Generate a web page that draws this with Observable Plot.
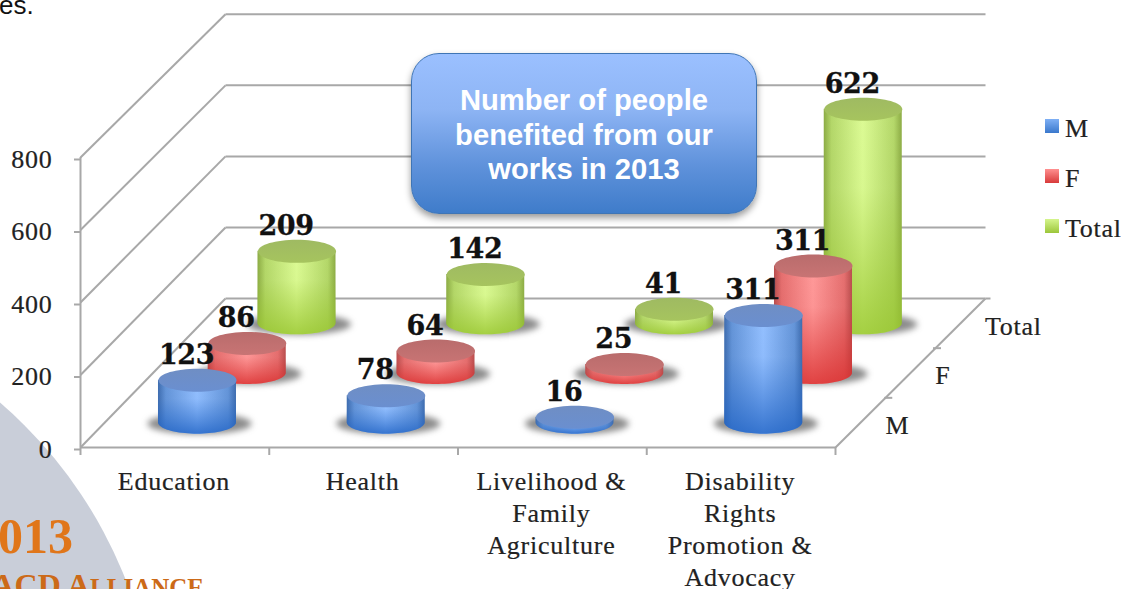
<!DOCTYPE html>
<html><head><meta charset="utf-8">
<script src="https://cdn.jsdelivr.net/npm/d3@7"></script>
<script src="https://cdn.jsdelivr.net/npm/@observablehq/plot@0.6"></script>
<style>
html,body{margin:0;padding:0;background:#fff;overflow:hidden;width:1128px;height:589px}
#stage{position:relative;width:1128px;height:589px;overflow:hidden}
#arc{position:absolute;left:-747px;top:293px;width:904px;height:904px;border-radius:50%;background:#c9ced9}
#chart{position:absolute;left:0;top:0}
#chart svg{display:block}
.serif text{letter-spacing:.75px;stroke:#222;stroke-width:.2px}
.serif .vals text{letter-spacing:-.4px;stroke:#111;stroke-width:.3px}
#frag{position:absolute;left:-1px;top:-10px;font:26px/30px "Liberation Sans",sans-serif;color:#111}
#callout{position:absolute;left:411px;top:53px;width:344px;height:159px;border:1px solid #3f75b5;border-radius:28px;
 background:linear-gradient(#9bc0ff 0%,#8db4f4 35%,#5f92db 70%,#3f7cca 100%);box-shadow:0 4px 7px rgba(0,0,0,.4);
 color:#fff;font:bold 29.2px/34.5px "Liberation Sans",sans-serif;text-align:center;display:flex;align-items:center;justify-content:center}
#callout div{padding-top:3px}
#year{position:absolute;left:-2px;top:506px;font:bold 50px/60px "Liberation Serif",serif;color:#e0761a;white-space:nowrap}
#org{position:absolute;right:924px;top:569px;font:bold 32px/32px "Liberation Serif",serif;color:#cc6a18;white-space:nowrap}
#org small{font-size:25px}
.lg{position:absolute;left:1045px;width:14px;height:14px}
.lt{position:absolute;left:1065px;font:26px/30px "Liberation Serif",serif;letter-spacing:.75px;color:#222;-webkit-text-stroke:.2px #222}
</style></head>
<body><div id="stage">
<div id="arc"></div>
<div id="chart"></div>
<div id="frag">es.</div>
<div id="year">013</div>
<div id="org">ACD A<small>LLIANCE</small></div>
<div id="callout"><div>Number of people<br>benefited from our<br>works in 2013</div></div>
<div class="lg" style="top:119px;background:linear-gradient(#7fb0f5,#3a78cc)"></div><div class="lt" style="top:114px">M</div>
<div class="lg" style="top:169px;background:linear-gradient(#ff9090,#d83a3a)"></div><div class="lt" style="top:164px">F</div>
<div class="lg" style="top:219px;background:linear-gradient(#d5f58d,#9cc63a)"></div><div class="lt" style="top:214px">Total</div>
</div>
<script>
const categories = ["Education", "Health", "Livelihood &\nFamily\nAgriculture", "Disability\nRights\nPromotion &\nAdvocacy"];
const seriesNames = ["M", "F", "Total"];
const valuesM = [123, 78, 16, 311];
const valuesF = [86, 64, 25, 311];
const valuesTotal = [209, 142, 41, 622];
const yTicks = [0, 200, 400, 600, 800];
const seriesValues = {M: valuesM, F: valuesF, Total: valuesTotal};

// oblique projection expressed in the units of the x (category) and y (value) scales
const pxX = 755 / 4, pxY = 290 / 800;     // pixels per scale unit, set by the ranges below
const depthX = 0.2636, depthY = 137;     // shift per depth row
const backLeft = 145 / pxX, backRight = 4 + 150 / pxX;
const wallShrink = 0.98, barShrink = 0.95;
const rx = 39, ry = 11.5;
const depths = {M: 0.5, F: 1.5, Total: 2.5};
const px = (c, d) => c + 0.5 + d * depthX - 0.012;

const ellipse = ratio => ({draw(ctx, size) {
  const a = Math.sqrt(size / Math.PI), b = a * ratio, k = 0.5523;
  ctx.moveTo(a, 0);
  ctx.bezierCurveTo(a, k * b, k * a, b, 0, b);
  ctx.bezierCurveTo(-k * a, b, -a, k * b, -a, 0);
  ctx.bezierCurveTo(-a, -k * b, -k * a, -b, 0, -b);
  ctx.bezierCurveTo(k * a, -b, a, -k * b, a, 0);
  ctx.closePath();
}});

const rows = seriesNames.map(s => categories.map((c, i) => {
  const d = depths[s], base = d * depthY;
  return {s, c, i, v: seriesValues[s][i], x: px(i, d), base, top: base + seriesValues[s][i] * barShrink};
}));
const all = rows.flat();

const angles = d3.range(0, 41).map(k => Math.PI * k / 40);
const bodyPts = r => r.flatMap(b => angles.map(a => ({
  id: b.s + b.i,
  x: b.x + Math.cos(a) * rx / pxX,
  y1: b.base - Math.sin(a) * ry / pxY,
  y2: b.top
})));

const defs = () => {
  const stops = (a) => a.map(([o, c, op]) => `<stop offset="${o}" stop-color="${c}" stop-opacity="${op ?? 1}"/>`).join("");
  const h = (id, e, m, c) => `<linearGradient id="${id}" x1="0" x2="1" y1="0" y2="0">${stops([[0, e], [.1, m], [.5, c], [.9, m], [1, e]])}</linearGradient>`;
  const v = (id, a) => `<linearGradient id="${id}" x1="0" x2="0" y1="0" y2="1">${stops(a)}</linearGradient>`;
  return d3.create("svg:g").html(`<defs>
    ${h("hM", "#3e6cae", "#6595d8", "#94c0ff")}
    ${h("hF", "#b84e4e", "#e57070", "#ff9a9a")}
    ${h("hTotal", "#8cab45", "#b4d76a", "#dcfb95")}
    ${v("vM", [[0, "#2a6ccb", 0], [.35, "#2a6ccb", 0.05], [1, "#1f62c4", .8]])}
    ${v("vF", [[0, "#d83030", 0], [.35, "#d83030", 0.05], [1, "#d92c2c", .8]])}
    ${v("vTotal", [[0, "#98c430", 0], [.35, "#98c430", 0.05], [1, "#97c52e", .8]])}
    ${v("tM", [[0, "#6f8ec4"], [1, "#6a8fd0"]])}
    ${v("tF", [[0, "#b96c6c"], [1, "#c87474"]])}
    ${v("tTotal", [[0, "#9fba62"], [1, "#a6c45e"]])}
  </defs>`).node();
};

const grid = "#a8a8a8";
const cylMarks = [...rows].reverse().flatMap(r => {
  const s = r[0].s, pts = bodyPts(r);
  return [
    Plot.dot(r, {x: d => d.x + 2 / pxX, y: d => d.base - 1 / pxY, r: 52, symbol: ellipse(0.2), fill: "#4d4d4d", fillOpacity: .65, imageFilter: "blur(3px)"}),
    Plot.areaY(pts, {x: "x", y1: "y1", y2: "y2", z: "id", fill: `url(#h${s})`}),
    Plot.areaY(pts, {x: "x", y1: "y1", y2: "y2", z: "id", fill: `url(#v${s})`}),
    Plot.dot(r, {x: "x", y: "top", r: rx, symbol: ellipse(ry / rx), fill: `url(#t${s})`})
  ];
});

const backY = v => 3 * depthY + v * wallShrink;
const sideLines = yTicks.map(v => ({x1: 0, y1: v, x2: backLeft, y2: backY(v)}));
const wallLines = yTicks.map(v => ({x1: backLeft, y1: backY(v), x2: backRight, y2: backY(v)}));
const floorEdge = [{x1: 0, y1: 0, x2: 4, y2: 0}, {x1: 4, y1: 0, x2: backRight, y2: backY(0)}, {x1: backRight, y1: backY(0), x2: backRight + 5 / pxX, y2: backY(0)}];
const sideTicks = [1, 2].map(d => ({x1: 4 + d * depthX * 0.98, y1: d * depthY, x2: 4 + d * depthX * 0.98 + 8 / pxX, y2: d * depthY}));
const lineOpts = {x1: "x1", y1: "y1", x2: "x2", y2: "y2", stroke: grid, strokeWidth: 2};

const plot = Plot.plot({
  width: 1128, height: 589,
  marginLeft: 80, marginRight: 293, marginTop: 157, marginBottom: 142,
  x: {domain: [0, 4], axis: null},
  y: {domain: [0, 800], axis: null},
  style: {background: "transparent", overflow: "visible", fontFamily: "'Liberation Serif',serif", color: "#222"},
  className: "serif",
  marks: [
    defs,
    Plot.link(sideLines, lineOpts),
    Plot.link(wallLines, lineOpts),
    Plot.link(floorEdge, lineOpts),
    Plot.link(sideTicks, lineOpts),
    Plot.ruleX([0], {y1: 0, y2: 800, stroke: grid, strokeWidth: 2}),
    Plot.axisY({ticks: yTicks, tickSize: 6, tickPadding: 22, stroke: grid, strokeWidth: 2, fontSize: 26, fill: "#222", label: null, tickFormat: d => d3.format("d")(d), textStroke: "none", dy: 2}),
    Plot.axisX({ticks: [0, 1, 2, 3, 4], tickSize: 8, tickFormat: () => "", stroke: grid, strokeWidth: 2, label: null}),
    Plot.text(categories, {x: (d, i) => i + 0.5, y: () => 0, text: d => d, dx: -1, dy: 20, lineAnchor: "top", lineHeight: 1.23, fontSize: 26, fill: "#222"}),
    ...cylMarks,
    Plot.text(seriesNames, {x: d => 4 + depths[d] * depthX, y: d => depths[d] * depthY, text: d => d, textAnchor: "start", dx: 25, dy: 3, fontSize: 26, fill: "#222"}),
    Plot.text(all, {x: "x", y: "top", text: d => String(d.v), dx: -11, dy: -25, fontSize: 27, fontWeight: "bold", fontFamily: "'DejaVu Serif',serif", fill: "#111", className: "vals"})
  ]
});
document.getElementById("chart").appendChild(plot);
</script>
</body></html>
